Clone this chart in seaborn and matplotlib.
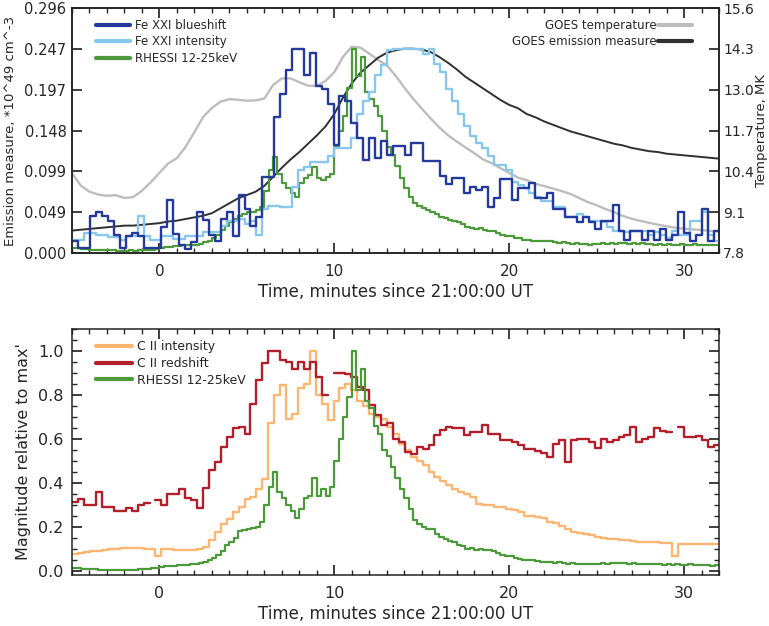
import numpy as np
import pandas as pd
import seaborn as sns
import matplotlib
matplotlib.use('Agg')
import matplotlib.pyplot as plt
from matplotlib.lines import Line2D
from matplotlib.ticker import MultipleLocator, FixedLocator

# IRIS rasters (~20 s cadence), minutes since 21:00:00 UT
iris_start = -4.98
iris_step = 0.3395

fe_blueshift = [
    0.015, 0.006, 0.006, 0.045, 0.050, 0.045, 0.039, 0.022, 0.006, 0.020,
    0.024, 0.020, 0.006, 0.006, 0.006, 0.031, 0.064, 0.023, 0.010, 0.005,
    0.013, 0.050, 0.040, 0.022, 0.015, 0.041, 0.049, 0.021, 0.070, 0.053,
    0.033, 0.043, 0.092, 0.092, 0.164, 0.192, 0.221, 0.247, 0.247, 0.215,
    0.242, 0.202, 0.198, 0.180, 0.131, 0.190, 0.184, 0.157, 0.139, 0.112,
    0.139, 0.115, 0.135, 0.119, 0.129, 0.129, 0.119, 0.133, 0.133, 0.111,
    0.111, 0.111, 0.093, 0.083, 0.091, 0.091, 0.072, 0.080, 0.076, 0.080,
    0.056, 0.066, 0.089, 0.089, 0.064, 0.078, 0.078, 0.084, 0.067, 0.067,
    0.073, 0.053, 0.053, 0.043, 0.043, 0.037, 0.043, 0.037, 0.029, 0.039,
    0.039, 0.058, 0.027, 0.016, 0.027, 0.027, 0.016, 0.027, 0.016, 0.029,
    0.016, 0.022, 0.050, 0.024, 0.015, 0.022, 0.053, 0.015, 0.027]

fe_intensity = [
    0.016, 0.016, 0.024, 0.024, 0.022, 0.022, 0.019, 0.019, 0.016, 0.020,
    0.020, 0.045, 0.021, 0.016, 0.016, 0.021, 0.021, 0.017, 0.017, 0.021,
    0.021, 0.021, 0.025, 0.025, 0.025, 0.033, 0.039, 0.039, 0.041, 0.035,
    0.039, 0.022, 0.053, 0.057, 0.057, 0.056, 0.056, 0.080, 0.100, 0.104,
    0.110, 0.110, 0.110, 0.117, 0.127, 0.127, 0.127, 0.139, 0.168, 0.184,
    0.194, 0.215, 0.227, 0.245, 0.247, 0.247, 0.247, 0.247, 0.247, 0.241,
    0.247, 0.229, 0.219, 0.198, 0.184, 0.168, 0.153, 0.141, 0.133, 0.127,
    0.117, 0.106, 0.106, 0.100, 0.086, 0.082, 0.078, 0.072, 0.068, 0.063,
    0.063, 0.055, 0.055, 0.043, 0.043, 0.047, 0.043, 0.039, 0.039, 0.037,
    0.031, 0.027, 0.027, 0.025, 0.027, 0.027, 0.027, 0.022, 0.025, 0.022,
    0.018, 0.027, 0.022, 0.022, 0.039, 0.039, 0.050, 0.022, 0.014]

c2_intensity = [
    0.076, 0.080, 0.085, 0.088, 0.091, 0.094, 0.097, 0.099, 0.101, 0.102,
    0.102, 0.101, 0.100, 0.099, 0.068, 0.097, 0.097, 0.096, 0.096, 0.095,
    0.096, 0.097, 0.107, 0.137, 0.175, 0.213, 0.236, 0.266, 0.290, 0.327,
    0.335, 0.373, 0.419, 0.670, 0.800, 0.845, 0.690, 0.715, 0.830, 0.850,
    1.000, 0.800, 0.760, 0.685, 0.770, 0.830, 0.850, 0.820, 0.770, 0.750,
    0.715, 0.700, 0.690, 0.654, 0.620, 0.578, 0.548, 0.517, 0.500, 0.480,
    0.449, 0.426, 0.410, 0.388, 0.373, 0.360, 0.350, 0.335, 0.304, 0.300,
    0.297, 0.289, 0.289, 0.280, 0.274, 0.265, 0.250, 0.250, 0.244, 0.240,
    0.221, 0.215, 0.205, 0.190, 0.175, 0.170, 0.167, 0.160, 0.152, 0.150,
    0.145, 0.143, 0.140, 0.137, 0.134, 0.132, 0.130, 0.129, 0.128, 0.127,
    0.126, 0.068, 0.122, 0.121, 0.120, 0.120, 0.119, 0.119, 0.119]

nan = np.nan
c2_redshift = [
    0.310, 0.327, 0.300, 0.300, 0.360, 0.290, 0.290, 0.270, 0.270, 0.285,
    0.270, 0.297, 0.307, nan, 0.320, 0.297, 0.350, 0.350, 0.370, 0.330,
    0.320, 0.285, 0.375, 0.457, 0.495, 0.563, 0.606, 0.647, 0.654, 0.624,
    0.760, 0.868, 0.944, 1.000, 1.000, 0.960, 0.951, 0.920, 0.950, 0.920,
    0.950, 0.880, 0.800, nan, 0.900, 0.900, 0.895, 0.883, 0.837, 0.822,
    0.753, 0.708, 0.662, 0.670, 0.600, 0.586, 0.540, 0.533, 0.563, 0.553,
    0.571, 0.616, 0.639, 0.654, 0.647, 0.647, 0.616, 0.630, 0.630, 0.662,
    0.624, 0.624, 0.594, 0.594, 0.586, 0.571, 0.553, 0.553, 0.543, 0.537,
    0.517, 0.578, 0.594, 0.495, 0.594, 0.601, 0.601, 0.586, 0.556, 0.601,
    0.586, 0.594, 0.609, 0.616, 0.654, 0.586, 0.601, 0.609, 0.647, 0.635,
    0.629, nan, 0.654, 0.609, 0.609, 0.612, 0.594, 0.563, 0.574]

# RHESSI 12-25 keV, 15 s bins from -5 min
rhessi_start = -5.0
rhessi_step = 0.25
rhessi_top = [
    0.006, 0.006, 0.005, 0.005, 0.004, 0.004, 0.004, 0.003,
    0.003, 0.003, 0.002, 0.002, 0.002, 0.003, 0.002, 0.003,
    0.003, 0.004, 0.004, 0.005, 0.006, 0.007, 0.007, 0.008,
    0.008, 0.009, 0.009, 0.010, 0.010, 0.011, 0.013, 0.015,
    0.018, 0.022, 0.028, 0.033, 0.037, 0.041, 0.045, 0.047,
    0.049, 0.050, 0.052, 0.056, 0.075, 0.100, 0.116, 0.095,
    0.085, 0.078, 0.072, 0.068, 0.084, 0.090, 0.094, 0.104,
    0.090, 0.088, 0.092, 0.095, 0.128, 0.147, 0.165, 0.200,
    0.247, 0.214, 0.237, 0.194, 0.186, 0.178, 0.165, 0.147,
    0.128, 0.118, 0.105, 0.090, 0.078, 0.068, 0.060, 0.057,
    0.054, 0.052, 0.050, 0.047, 0.044, 0.042, 0.040, 0.038,
    0.037, 0.035, 0.031, 0.030, 0.029, 0.030, 0.028, 0.027,
    0.026, 0.024, 0.022, 0.021, 0.020, 0.018, 0.018, 0.016,
    0.016, 0.015, 0.015, 0.014, 0.015, 0.014, 0.013, 0.012,
    0.013, 0.012, 0.011, 0.012, 0.011, 0.011, 0.010, 0.011,
    0.011, 0.012, 0.011, 0.012, 0.011, 0.012, 0.012, 0.011,
    0.012, 0.011, 0.012, 0.011, 0.011, 0.010, 0.011, 0.010,
    0.011, 0.010, 0.010, 0.011, 0.010, 0.010, 0.011, 0.010,
    0.010, 0.009, 0.010, 0.009, 0.009]

rhessi_rel = [
    0.012, 0.010, 0.009, 0.008, 0.006, 0.005, 0.004, 0.004,
    0.003, 0.002, 0.001, 0.002, 0.001, 0.003, 0.003, 0.005,
    0.006, 0.008, 0.010, 0.013, 0.015, 0.019, 0.021, 0.023,
    0.025, 0.024, 0.026, 0.028, 0.030, 0.033, 0.040, 0.048,
    0.058, 0.072, 0.088, 0.115, 0.130, 0.150, 0.182, 0.185,
    0.190, 0.192, 0.200, 0.220, 0.300, 0.380, 0.450, 0.360,
    0.330, 0.300, 0.270, 0.240, 0.280, 0.330, 0.340, 0.420,
    0.340, 0.370, 0.340, 0.380, 0.500, 0.600, 0.700, 0.790,
    1.000, 0.820, 0.920, 0.770, 0.740, 0.660, 0.620, 0.550,
    0.520, 0.470, 0.420, 0.370, 0.330, 0.280, 0.230, 0.210,
    0.200, 0.190, 0.190, 0.165, 0.155, 0.145, 0.135, 0.128,
    0.118, 0.112, 0.098, 0.105, 0.095, 0.100, 0.092, 0.095,
    0.088, 0.078, 0.072, 0.068, 0.065, 0.058, 0.055, 0.050,
    0.048, 0.046, 0.044, 0.040, 0.040, 0.038, 0.036, 0.038,
    0.034, 0.032, 0.034, 0.030, 0.031, 0.028, 0.030, 0.029,
    0.031, 0.034, 0.032, 0.035, 0.033, 0.036, 0.034, 0.032,
    0.033, 0.030, 0.032, 0.029, 0.031, 0.028, 0.030, 0.027,
    0.029, 0.026, 0.028, 0.027, 0.026, 0.028, 0.025, 0.027,
    0.024, 0.026, 0.023, 0.025, 0.022]

# GOES, 30 s samples from -5 min
goes_start = -5.0
goes_step = 0.5
goes_temp = [
    10.34, 9.95, 9.75, 9.66, 9.62, 9.64, 9.55, 9.58, 9.78, 10.05,
    10.35, 10.65, 10.82, 11.18, 11.65, 12.13, 12.42, 12.62, 12.70, 12.68,
    12.65, 12.66, 12.72, 13.15, 13.36, 13.36, 13.24, 13.13, 13.12, 13.28,
    13.56, 14.05, 14.37, 14.34, 14.15, 13.95, 13.78, 13.45, 13.07, 12.72,
    12.40, 12.09, 11.80, 11.55, 11.35, 11.16, 10.98, 10.78, 10.66, 10.50,
    10.35, 10.20, 10.12, 10.00, 9.93, 9.85, 9.77, 9.68, 9.55, 9.42,
    9.32, 9.20, 9.10, 8.98, 8.89, 8.82, 8.76, 8.70, 8.65, 8.60,
    8.57, 8.55, 8.53, 8.50, 8.48]
goes_em = [
    0.027, 0.028, 0.029, 0.030, 0.031, 0.032, 0.033, 0.033, 0.034, 0.035,
    0.036, 0.038, 0.039, 0.041, 0.043, 0.045, 0.048, 0.054, 0.060, 0.066,
    0.070, 0.074, 0.081, 0.092, 0.103, 0.113, 0.122, 0.132, 0.142, 0.153,
    0.168, 0.188, 0.205, 0.218, 0.227, 0.236, 0.242, 0.245, 0.247, 0.247,
    0.246, 0.243, 0.237, 0.230, 0.222, 0.213, 0.206, 0.199, 0.192, 0.185,
    0.179, 0.175, 0.168, 0.164, 0.159, 0.155, 0.151, 0.147, 0.144, 0.141,
    0.138, 0.135, 0.132, 0.130, 0.127, 0.125, 0.123, 0.122, 0.120, 0.119,
    0.118, 0.117, 0.116, 0.115, 0.114]

em_ticks = [0.0, 0.049, 0.099, 0.148, 0.197, 0.247, 0.296]
temp_ticks = [7.8, 9.1, 10.4, 11.7, 13.0, 14.3, 15.6]

C_BLUE = '#23399b'
C_LBLUE = '#87c6ee'
C_GREEN = '#4c9a3b'
C_GREY = '#bdbdbd'
C_BLACK = '#303030'
C_ORANGE = '#fdb672'
C_RED = '#b21f2b'


def step_frame(t0, dt, values):
    """ histogram-style bins; NaN bins split the line into segments """
    rows = []
    seg = 0
    for i, v in enumerate(values):
        if np.isnan(v):
            seg += 1
            continue
        rows.append((t0 + i * dt, v, seg))
        rows.append((t0 + (i + 1) * dt, v, seg))
    return pd.DataFrame(rows, columns=['t', 'v', 'seg'])


def draw_steps(ax, t0, dt, values, color, lw=1.7):
    df = step_frame(t0, dt, values)
    sns.lineplot(data=df, x='t', y='v', units='seg', estimator=None,
                 sort=False, color=color, linewidth=lw, ax=ax, legend=False)


def style_time_axis(ax):
    ax.set_xlim(-5, 32)
    ax.xaxis.set_major_locator(FixedLocator([0, 10, 20, 30]))
    ax.xaxis.set_minor_locator(MultipleLocator(1))
    ax.set_xlabel('Time, minutes since 21:00:00 UT', fontsize=12, labelpad=3)


sns.set_theme(style='ticks')
plt.rcParams['font.family'] = ['DejaVu Sans']
plt.rcParams['axes.edgecolor'] = '#222222'
plt.rcParams['axes.linewidth'] = 1.1

fig = plt.figure(figsize=(7.69, 6.26), dpi=100)
ax = fig.add_axes([0.0936, 0.596, 0.8414, 0.391])
ax_t = ax.twinx()
ax.set_zorder(ax_t.get_zorder() + 1)
ax.patch.set_visible(False)

# top panel
goes_t = goes_start + goes_step * np.arange(len(goes_temp))
sns.lineplot(x=goes_t, y=goes_temp, color=C_GREY, linewidth=1.7, ax=ax_t)
sns.lineplot(x=goes_t, y=goes_em, color=C_BLACK, linewidth=1.4, ax=ax)
draw_steps(ax, rhessi_start, rhessi_step, rhessi_top, C_GREEN, lw=1.6)
draw_steps(ax, iris_start, iris_step, fe_intensity, C_LBLUE)
draw_steps(ax, iris_start, iris_step, fe_blueshift, C_BLUE)

ax.set_ylim(0, 0.296)
ax.yaxis.set_major_locator(FixedLocator(em_ticks))
ax.set_yticklabels(['%.3f' % v for v in em_ticks])
ax.set_ylabel('Emission measure, *10^49 cm^-3', fontsize=9.5, labelpad=5)
style_time_axis(ax)
ax.tick_params(axis='x', which='major', direction='in', length=7, top=True,
               labelsize=11, pad=8)
ax.tick_params(axis='x', which='minor', direction='in', length=3.5, top=True)
ax.tick_params(axis='y', which='major', direction='in', length=7,
               labelsize=10.5, pad=4)

ax_t.set_ylim(7.8, 15.6)
ax_t.yaxis.set_major_locator(FixedLocator(temp_ticks))
ax_t.set_yticklabels(['%.1f' % v for v in temp_ticks])
ax_t.set_ylabel('Temperature, MK', fontsize=9.5, labelpad=1)
ax_t.tick_params(axis='y', direction='in', length=7, labelsize=10, pad=3)

h1 = [Line2D([], [], color=c, lw=3) for c in (C_BLUE, C_LBLUE, C_GREEN)]
leg = ax.legend(h1, ['Fe XXI blueshift', 'Fe XXI intensity',
                     'RHESSI 12-25keV'],
                loc='upper left', frameon=False, fontsize=8.5,
                handlelength=2.9, handletextpad=0.4, labelspacing=0.3,
                borderaxespad=0.5, bbox_to_anchor=(0.02, 1.0))
ax.add_artist(leg)
h2 = [Line2D([], [], color=C_GREY, lw=3), Line2D([], [], color=C_BLACK, lw=3)]
ax.legend(h2, ['GOES temperature', 'GOES emission measure'],
          loc='upper right', frameon=False, fontsize=8.5, markerfirst=False,
          handlelength=2.9, handletextpad=0.1, labelspacing=0.25,
          borderaxespad=0.5, bbox_to_anchor=(0.975, 1.0))

# bottom panel
bx = fig.add_axes([0.0936, 0.0815, 0.8414, 0.393])
draw_steps(bx, iris_start, iris_step, c2_intensity, C_ORANGE)
draw_steps(bx, iris_start, iris_step, c2_redshift, C_RED)
draw_steps(bx, rhessi_start, rhessi_step, rhessi_rel, C_GREEN, lw=1.6)

bx.set_ylim(-0.02, 1.1)
bx.yaxis.set_major_locator(FixedLocator([0, 0.2, 0.4, 0.6, 0.8, 1.0]))
bx.yaxis.set_minor_locator(MultipleLocator(0.05))
bx.set_yticklabels(['0.0', '0.2', '0.4', '0.6', '0.8', '1.0'])
bx.set_ylabel("Magnitude relative to max'", fontsize=11.5, labelpad=5)
style_time_axis(bx)
bx.tick_params(which='major', direction='in', length=7, top=True, right=True,
               labelsize=11.5, pad=6)
bx.tick_params(axis='x', which='major', pad=8)
bx.tick_params(which='minor', direction='in', length=3.5, top=True, right=True)

h3 = [Line2D([], [], color=c, lw=3) for c in (C_ORANGE, C_RED, C_GREEN)]
bx.legend(h3, ['C II intensity', 'C II redshift', 'RHESSI 12-25keV'],
          loc='upper left', frameon=False, fontsize=9,
          handlelength=2.9, handletextpad=0.4, labelspacing=0.3,
          borderaxespad=0.5, bbox_to_anchor=(0.02, 1.0))

fig.savefig('out.png', dpi=100)
